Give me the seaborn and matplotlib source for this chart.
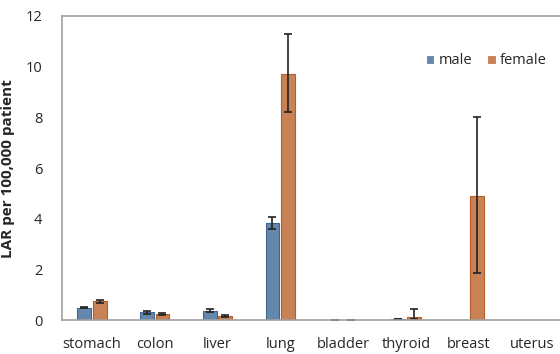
import matplotlib
matplotlib.use('Agg')
import matplotlib.pyplot as plt
import numpy as np
import pandas as pd
import seaborn as sns

organs = ['stomach', 'colon', 'liver', 'lung', 'bladder', 'thyroid', 'breast', 'uterus']
male = [0.50, 0.32, 0.38, 3.85, 0.02, 0.05, 0.0, 0.0]
female = [0.75, 0.25, 0.18, 9.72, 0.02, 0.15, 4.90, 0.0]
male_lo = [0.47, 0.26, 0.33, 3.62, 0.02, 0.05, 0.0, 0.0]
male_hi = [0.53, 0.38, 0.43, 4.08, 0.02, 0.05, 0.0, 0.0]
female_lo = [0.68, 0.21, 0.15, 8.20, 0.02, 0.05, 1.85, 0.0]
female_hi = [0.82, 0.29, 0.21, 11.30, 0.02, 0.45, 8.02, 0.0]

df = pd.DataFrame({
    'organ': organs * 2,
    'sex': ['male'] * len(organs) + ['female'] * len(organs),
    'LAR': male + female,
})

sns.set_style('white')
plt.rcParams['font.family'] = ['Open Sans', 'DejaVu Sans']

fig, ax = plt.subplots(figsize=(5.6, 3.54), dpi=100)
colors = {'male': '#5A86B8', 'female': '#DC7D42'}
sns.barplot(data=df, x='organ', y='LAR', hue='sex', palette=colors,
            width=0.5, gap=0.12, errorbar=None, ax=ax, linewidth=0.8)

edges = {'male': '#3E6690', 'female': '#B35F2C'}
lows = {'male': male_lo, 'female': female_lo}
highs = {'male': male_hi, 'female': female_hi}
vals = {'male': male, 'female': female}
for cont, sex in zip(ax.containers, ['male', 'female']):
    for i, bar in enumerate(cont):
        bar.set_edgecolor(edges[sex])
        xc = bar.get_x() + bar.get_width() / 2
        v = vals[sex][i]
        lo, hi = lows[sex][i], highs[sex][i]
        if hi - lo <= 0 and v == 0:
            continue
        ax.errorbar(xc, v, yerr=[[v - lo], [hi - v]], fmt='none',
                    ecolor='#222222', elinewidth=1.2, capsize=3, capthick=1.2)

ax.set_ylim(0, 12)
ax.set_yticks(range(0, 13, 2))
ax.set_xlim(-0.48, 7.45)
ax.set_xlabel('')
ax.set_ylabel('LAR per 100,000 patient', fontsize=11, fontweight='bold')
ax.yaxis.set_label_coords(-0.093, 0.5)
ax.tick_params(axis='both', length=0, labelsize=10.5)
ax.tick_params(axis='x', pad=12)
ax.tick_params(axis='y', pad=14)
for side in ['left', 'top', 'bottom']:
    ax.spines[side].set_color('#A0A0A0')
    ax.spines[side].set_linewidth(1.2)
ax.spines['right'].set_visible(False)

ax.legend(loc='upper right', bbox_to_anchor=(1.0, 0.92), ncol=2, frameon=False,
          fontsize=10.5, handlelength=0.6, handleheight=0.6, handletextpad=0.3,
          columnspacing=1.0)

fig.subplots_adjust(left=0.11, right=1.0, top=0.955, bottom=0.095)
fig.savefig('out.png', dpi=100)
